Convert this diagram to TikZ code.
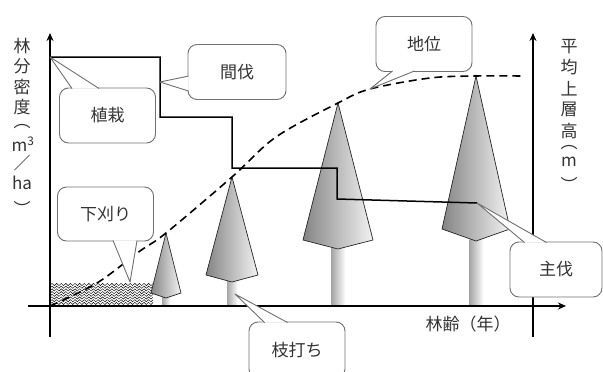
\documentclass[tikz,border=0pt]{standalone}
\usepackage{fontspec}
\newfontfamily\jp{Noto Sans CJK JP}
\usetikzlibrary{
  arrows.meta,
  decorations.pathmorphing, % "snake" for the undergrowth
}
\definecolor{ink}{HTML}{333333}
\definecolor{rim}{HTML}{707070}
\newcommand{\labfont}{\jp\fontsize{17}{20}\selectfont}
% Tree: name, x, apex y, shoulder y, half width, bottom y, trunk half width
\newcommand{\pine}[7]{%
  \shade[trunk] (#2-#7,#6-2) rectangle (#2+#7,306);
  \shade[crown] (#2,#3) -- (#2+#5,#4) -- (#2,#6) -- (#2-#5,#4) -- cycle;
  \coordinate (#1) at (#2,#3);
}
% Tail of a callout: two points on the box edge, then the tip
\newcommand{\tail}[3]{%
  \fill[white] (#1) -- (#3) -- (#2) -- cycle;
  \draw[callout line] (#1) -- (#3) -- (#2);
}
\tikzset{
  x=1pt, y=-1pt,
  font=\labfont,
  text=ink,
  >={Stealth[length=8pt,width=7pt]},
  axis/.style={
    line width=1.3pt
  },
  axis label/.style={
    inner sep=0pt
  },
  density/.style={
    line width=1.5pt,
    line join=miter
  },
  height/.style={
    line width=1.6pt,
    dash pattern=on 8pt off 5pt
  },
  crown/.style={
    draw=black!85,
    line width=0.7pt,
    line join=miter,
    left color=black!48,
    right color=black!5
  },
  trunk/.style={
    left color=black!35,
    right color=black!3
  },
  weed/.style={
    line width=0.45pt,
    decorate,
    decoration={snake,segment length=4.6pt,amplitude=1.1pt}
  },
  callout/.style={
    draw=rim,
    fill=white,
    line width=0.9pt,
    rounded corners=9pt,
    minimum width=96pt,
    minimum height=55pt,
    inner sep=0pt
  },
  callout line/.style={
    draw=rim,
    line width=0.9pt,
    line join=round
  }
}

\begin{document}
\begin{tikzpicture}
\useasboundingbox (0,0) rectangle (603,372);
% Undergrowth
\begin{scope}
  \clip (50,283) rectangle (153,305);
  \foreach \y in {284.5,287.2,...,305}
    \draw[weed] (46,\y) -- (158,\y);
\end{scope}
% Trees
\pine{t1}{166}{233}{293}{15}{298}{4}
\pine{t2}{232}{177}{275}{26}{282}{5}
\pine{t3}{338}{103}{240}{35}{249}{6.5}
\pine{t4}{476}{76}{229}{34}{241}{6.5}
% Axes
\coordinate (o)  at (50,306);
\coordinate (o2) at (533,306);
\draw[axis,->] (50,337) -- (50,33);
\draw[axis,->] (533,337) -- (533,33);
\draw[axis,->] (28,306) -- (566,306);
% Stand density
\coordinate (t-plant) at (50,57);
\draw[density] (t-plant) -| (160,117) -| (232,168) -| (337,199) -- (477,203)
  coordinate (t-harvest);
\coordinate (t-thin) at (160,82);
% Mean top height
\draw[height] plot[smooth,tension=0.55] coordinates
  {(o) (97,283) (140,251) (t1) (t2) (276,137) (t3) (370,89) (430,78) (t4) (522,76)};
\coordinate (t-site)  at (370,89);
\coordinate (t-weed)  at (130,282);
\coordinate (t-prune) at (235,294);
% Axis labels (closing bracket ink sits high in its box)
\foreach \ch [count=\i] in {林,分,密,度}
  \node[axis label] (ly\i) at (22,26+20.3*\i) {\ch};
\node[axis label] (ly5) at (22,127) {︵};
\node[axis label] (ly6) at (23,144) {m\textsuperscript{3}};
\node[axis label] (ly7) at (22,163) {／};
\node[axis label] (ly8) at (22,183) {ha};
\node[axis label] (ly9) at (22,208) {︶};
\foreach \ch [count=\i] in {平,均,上,層,高}
  \node[axis label] (ry\i) at (569,25+21.2*\i) {\ch};
\node[axis label] (ry6) at (569,148) {︵};
\node[axis label] (ry7) at (569,162) {m};
\node[axis label] (ry8) at (569,184) {︶};
\node (lx) at (468,324) {林齢（年）};
% Callouts
\node[callout] (plant) at (107.5,115.5) {植栽};
\tail{[shift={(13,1)}]plant.north west}{[shift={(40,1)}]plant.north west}{t-plant}
\node[callout,minimum width=98pt] (thin) at (237,72) {間伐};
\tail{[shift={(1,32)}]thin.north west}{[shift={(1,47)}]thin.north west}{t-thin}
\node[callout] (site) at (424,44) {地位};
\tail{[shift={(17,-1)}]site.south west}{[shift={(39,-1)}]site.south west}{t-site}
\node[callout,minimum width=92pt] (harvest) at (556,269.5) {主伐};
\tail{[shift={(15,1)}]harvest.north west}{[shift={(37,1)}]harvest.north west}{t-harvest}
\node[callout,minimum height=54pt] (weed) at (105.5,214) {下刈り};
\tail{[shift={(56,-1)}]weed.south west}{[shift={(80,-1)}]weed.south west}{t-weed}
\node[callout,minimum height=56pt] (prune) at (297,350) {枝打ち};
\tail{[shift={(16,1)}]prune.north west}{[shift={(39,1)}]prune.north west}{t-prune}
\end{tikzpicture}
\end{document}
